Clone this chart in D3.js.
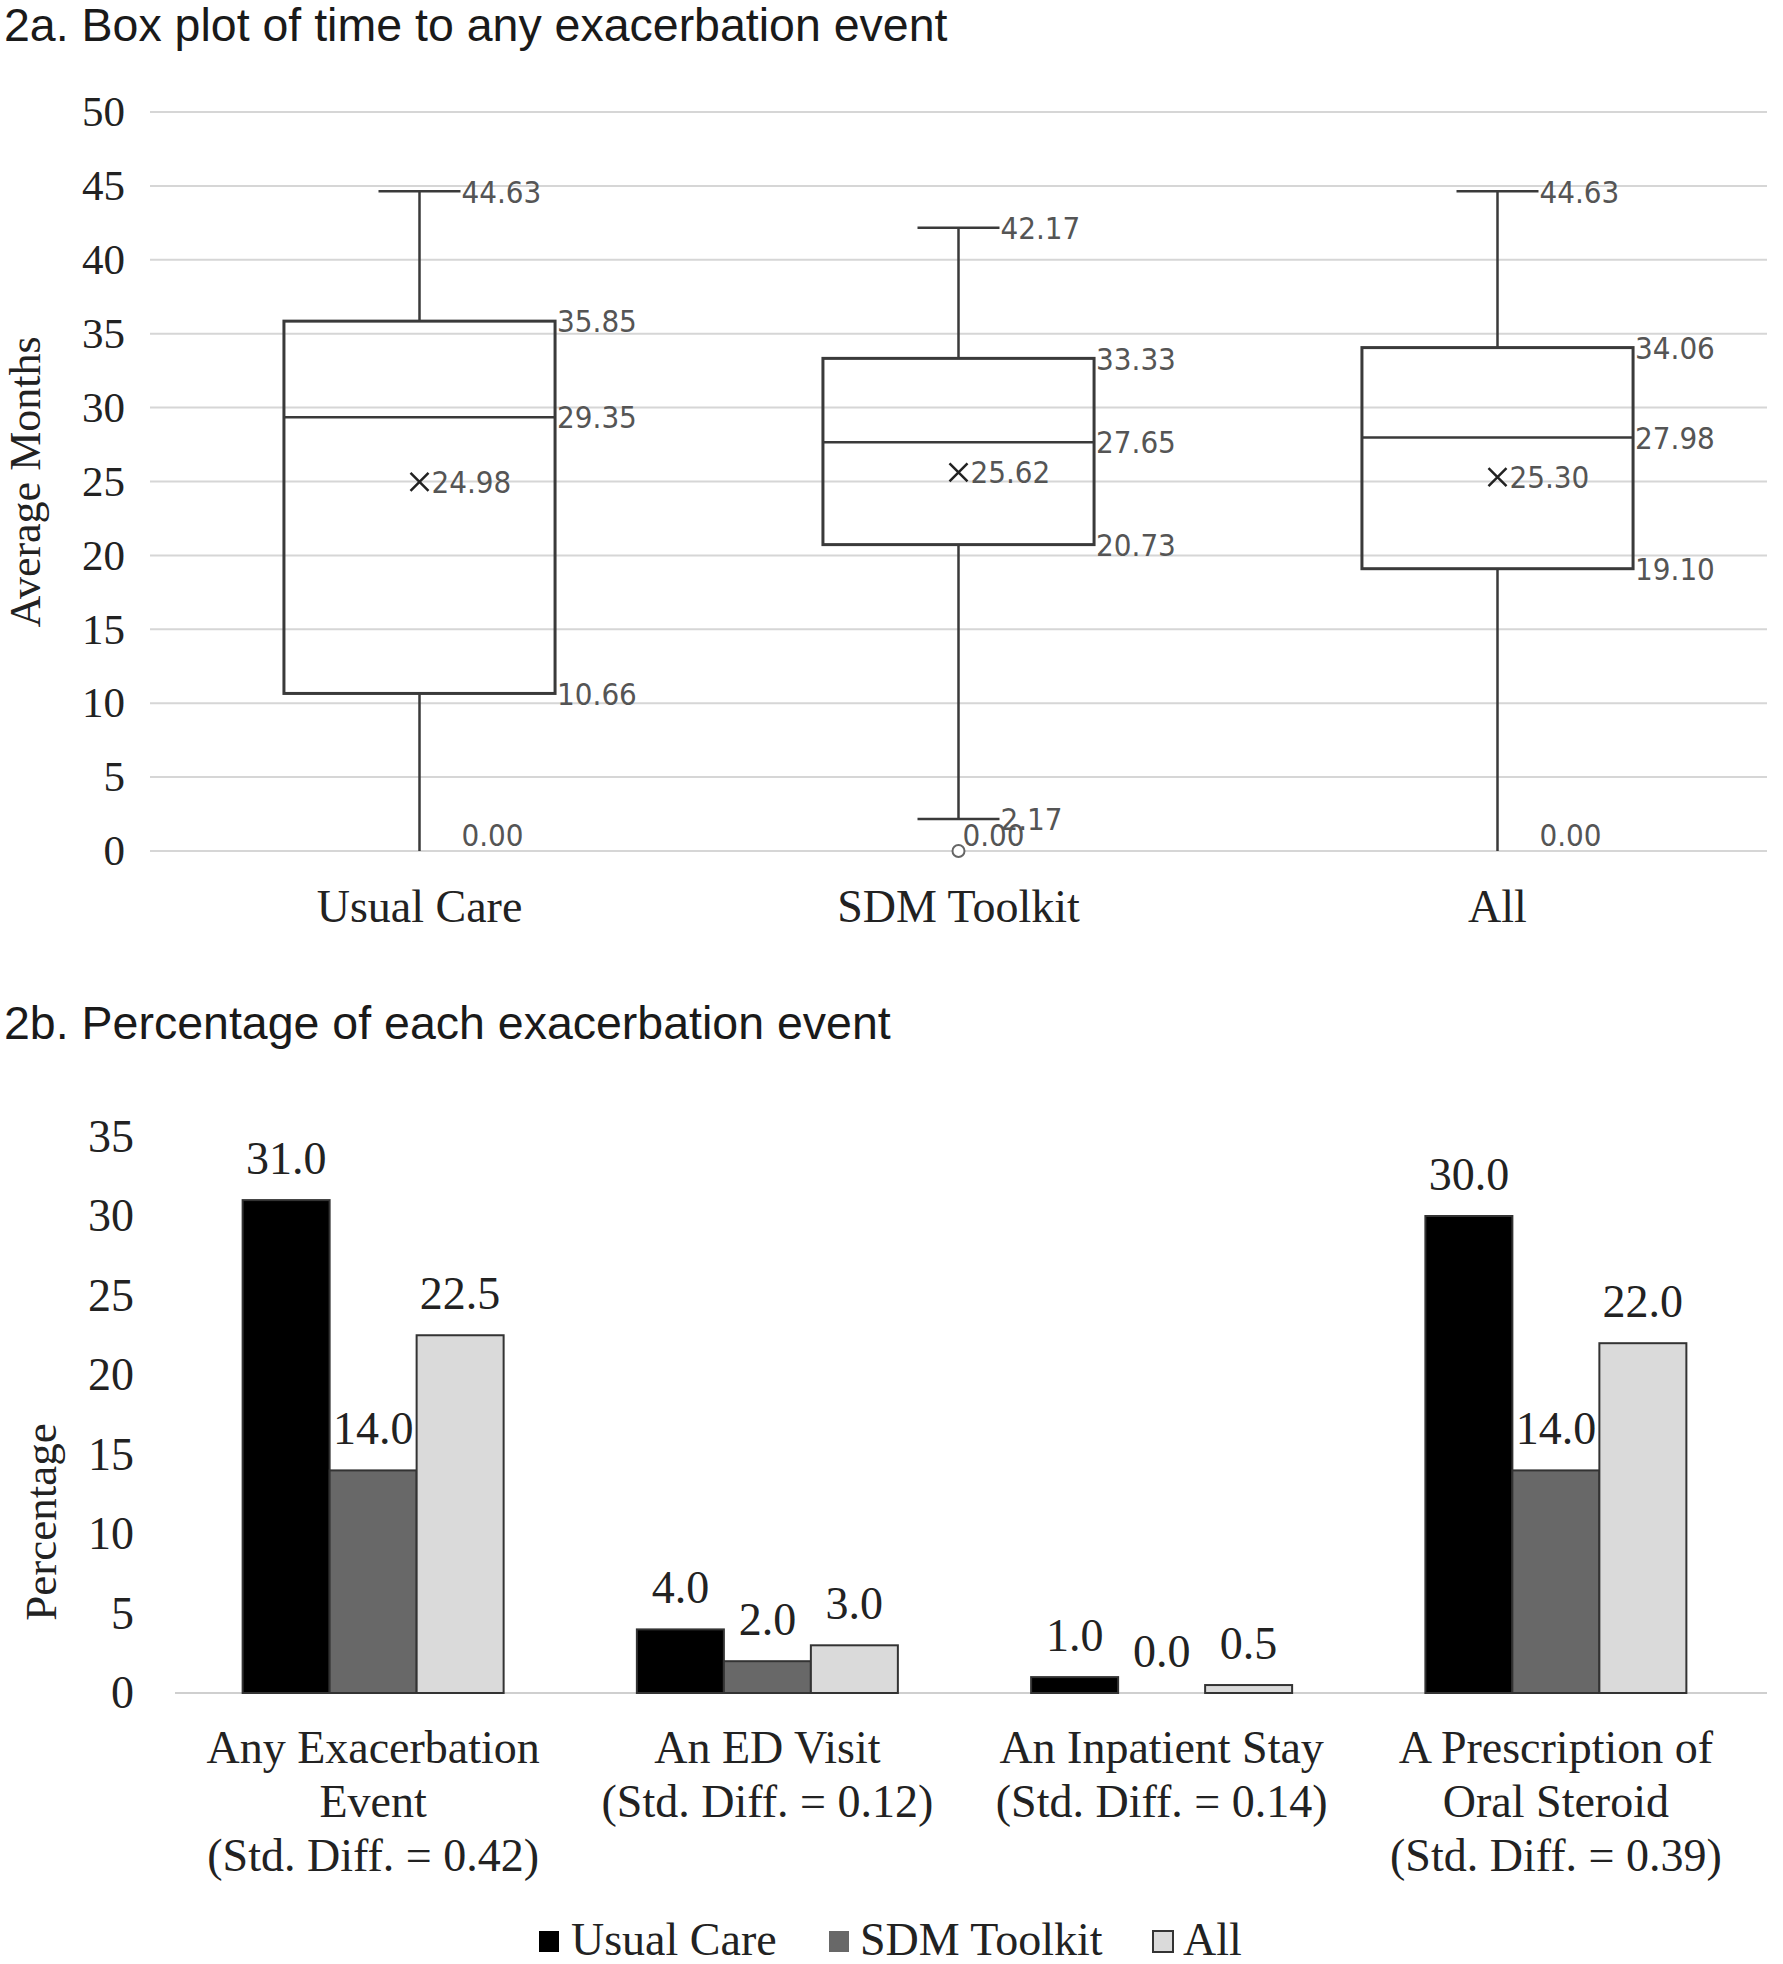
<!DOCTYPE html>
<html><head><meta charset="utf-8">
<script src="https://cdn.jsdelivr.net/npm/d3@7"></script>
<style>body{margin:0;background:#fff}</style>
</head><body>
<svg id="c" width="1783" height="1964" xmlns="http://www.w3.org/2000/svg"></svg>
<script>
// ---------- 2a data ----------
const boxGroups = ["Usual Care", "SDM Toolkit", "All"];
const boxMin = [0.00, 2.17, 0.00];
const boxQ1 = [10.66, 20.73, 19.10];
const boxMedian = [29.35, 27.65, 27.98];
const boxQ3 = [35.85, 33.33, 34.06];
const boxMax = [44.63, 42.17, 44.63];
const boxMean = [24.98, 25.62, 25.30];
const boxOutliers = [[], [0.00], []];
const boxTicks = [0, 5, 10, 15, 20, 25, 30, 35, 40, 45, 50];

// ---------- 2b data ----------
const barCategories = [
  ["Any Exacerbation", "Event", "(Std. Diff. = 0.42)"],
  ["An ED Visit", "(Std. Diff. = 0.12)"],
  ["An Inpatient Stay", "(Std. Diff. = 0.14)"],
  ["A Prescription of", "Oral Steroid", "(Std. Diff. = 0.39)"]
];
const barSeries = ["Usual Care", "SDM Toolkit", "All"];
const usualCareValues = [31.0, 4.0, 1.0, 30.0];
const sdmToolkitValues = [14.0, 2.0, 0.0, 14.0];
const allValues = [22.5, 3.0, 0.5, 22.0];
const barTicks = [0, 5, 10, 15, 20, 25, 30, 35];

const SERIF = "'Liberation Serif','Times New Roman',serif";
const SANS = "'Liberation Sans',Arial,sans-serif";
const LABEL = "'DejaVu Sans Condensed','DejaVu Sans',Verdana,sans-serif";

const svg = d3.select("#c");

// ================= 2a =================
svg.append("text").attr("x", 4).attr("y", 41)
  .attr("font-family", SANS).attr("font-size", 46.5).attr("fill", "#1a1a1a")
  .text("2a. Box plot of time to any exacerbation event");

const yA = d3.scaleLinear().domain([0, 50]).range([851, 112]);
const xA = d3.scaleBand().domain(boxGroups).range([150, 1767])
  .paddingInner(0.497).paddingOuter(0.2485);

const gA = svg.append("g");
gA.selectAll("line.grid").data(boxTicks).join("line")
  .attr("x1", 150).attr("x2", 1767)
  .attr("y1", d => yA(d)).attr("y2", d => yA(d))
  .attr("stroke", "#d6d6d6").attr("stroke-width", 2);

const axA = gA.append("g").attr("transform", "translate(150,0)")
  .call(d3.axisLeft(yA).tickValues(boxTicks).tickSize(0).tickPadding(25));
axA.attr("font-family", SERIF);
axA.select(".domain").remove();
axA.selectAll("text").attr("font-family", SERIF).attr("font-size", 43).attr("fill", "#222");

const axAx = gA.append("g").attr("transform", "translate(0,851)")
  .call(d3.axisBottom(d3.scaleBand().domain(boxGroups).range([150, 1767])).tickSize(0).tickPadding(38));
axAx.attr("font-family", SERIF);
axAx.select(".domain").remove();
axAx.selectAll("text").attr("font-family", SERIF).attr("font-size", 46).attr("fill", "#222");

svg.append("text")
  .attr("transform", "translate(40,482) rotate(-90)")
  .attr("text-anchor", "middle")
  .attr("font-family", SERIF).attr("font-size", 44).attr("fill", "#222")
  .text("Average Months");

const lineCol = "#3a3a3a";
const labCol = "#555";
const capHalf = 41;
function lab(x, v, txt) {
  let yy = yA(v);
  if (yy > yA(0) - 16) yy = yA(0) - 16;
  gA.append("text").attr("x", x).attr("y", yy).attr("dy", "0.36em")
    .attr("font-family", LABEL).attr("font-size", 31).attr("fill", labCol)
    .text(txt);
}
boxGroups.forEach((g, i) => {
  const x0 = xA(g), w = xA.bandwidth(), cx = x0 + w / 2;
  gA.append("line").attr("x1", cx).attr("x2", cx)
    .attr("y1", yA(boxQ3[i])).attr("y2", yA(boxMax[i]))
    .attr("stroke", lineCol).attr("stroke-width", 2.5);
  gA.append("line").attr("x1", cx).attr("x2", cx)
    .attr("y1", yA(boxQ1[i])).attr("y2", yA(boxMin[i]))
    .attr("stroke", lineCol).attr("stroke-width", 2.5);
  gA.append("line").attr("x1", cx - capHalf).attr("x2", cx + capHalf)
    .attr("y1", yA(boxMax[i])).attr("y2", yA(boxMax[i]))
    .attr("stroke", lineCol).attr("stroke-width", 2.5);
  if (boxMin[i] > 0) {
    gA.append("line").attr("x1", cx - capHalf).attr("x2", cx + capHalf)
      .attr("y1", yA(boxMin[i])).attr("y2", yA(boxMin[i]))
      .attr("stroke", lineCol).attr("stroke-width", 2.5);
  }
  gA.append("rect").attr("x", x0).attr("width", w)
    .attr("y", yA(boxQ3[i])).attr("height", yA(boxQ1[i]) - yA(boxQ3[i]))
    .attr("fill", "none").attr("stroke", lineCol).attr("stroke-width", 3);
  gA.append("line").attr("x1", x0).attr("x2", x0 + w)
    .attr("y1", yA(boxMedian[i])).attr("y2", yA(boxMedian[i]))
    .attr("stroke", lineCol).attr("stroke-width", 2.5);
  const my = yA(boxMean[i]), s = 9;
  gA.append("path")
    .attr("d", `M${cx - s},${my - s}L${cx + s},${my + s}M${cx - s},${my + s}L${cx + s},${my - s}`)
    .attr("stroke", "#222").attr("stroke-width", 2.5).attr("fill", "none");
  boxOutliers[i].forEach(o => {
    gA.append("circle").attr("cx", cx).attr("cy", yA(o)).attr("r", 6)
      .attr("fill", "#fff").attr("stroke", "#666").attr("stroke-width", 2);
  });
  lab(cx + capHalf + 1, boxMax[i], boxMax[i].toFixed(2));
  lab(x0 + w + 2, boxQ3[i], boxQ3[i].toFixed(2));
  lab(x0 + w + 2, boxMedian[i], boxMedian[i].toFixed(2));
  lab(x0 + w + 2, boxQ1[i], boxQ1[i].toFixed(2));
  lab(cx + 12, boxMean[i], boxMean[i].toFixed(2));
  lab(cx + capHalf + 1, boxMin[i], boxMin[i].toFixed(2));
  boxOutliers[i].forEach(o => lab(cx + 4, o, o.toFixed(2)));
});

// ================= 2b =================
svg.append("text").attr("x", 4).attr("y", 1039)
  .attr("font-family", SANS).attr("font-size", 46.5).attr("fill", "#1a1a1a")
  .text("2b. Percentage of each exacerbation event");

const catKeys = barCategories.map(d => d.join(" "));
const yB = d3.scaleLinear().domain([0, 35]).range([1693, 1136.5]);
const xB = d3.scaleBand().domain(catKeys).range([176, 1753])
  .paddingInner(0.338).paddingOuter(0.169);
const xB1 = d3.scaleBand().domain(barSeries).range([0, xB.bandwidth()]);
const barColors = d3.scaleOrdinal().domain(barSeries).range(["#000000", "#686868", "#dadada"]);
const seriesValues = [usualCareValues, sdmToolkitValues, allValues];

const gB = svg.append("g");
const axB = gB.append("g").attr("transform", "translate(176,0)")
  .call(d3.axisLeft(yB).tickValues(barTicks).tickSize(0).tickPadding(42));
axB.attr("font-family", SERIF);
axB.select(".domain").remove();
axB.selectAll("text").attr("font-family", SERIF).attr("font-size", 46).attr("fill", "#222");

gB.append("line").attr("x1", 175).attr("x2", 1767)
  .attr("y1", yB(0)).attr("y2", yB(0))
  .attr("stroke", "#cfcfcf").attr("stroke-width", 2);

svg.append("text")
  .attr("transform", "translate(56,1522) rotate(-90)")
  .attr("text-anchor", "middle")
  .attr("font-family", SERIF).attr("font-size", 45).attr("fill", "#222")
  .text("Percentage");

catKeys.forEach((c, ci) => {
  barSeries.forEach((s, si) => {
    const v = seriesValues[si][ci];
    const bx = xB(c) + xB1(s);
    gB.append("rect").attr("x", bx).attr("width", xB1.bandwidth())
      .attr("y", yB(v)).attr("height", yB(0) - yB(v))
      .attr("fill", barColors(s))
      .attr("stroke", v > 0 ? "#333" : "none").attr("stroke-width", 2);
  });
  barSeries.forEach((s, si) => {
    const v = seriesValues[si][ci];
    const bx = xB(c) + xB1(s);
    gB.append("text").attr("x", bx + xB1.bandwidth() / 2).attr("y", yB(v) - 26)
      .attr("text-anchor", "middle")
      .attr("font-family", SERIF).attr("font-size", 46).attr("fill", "#222")
      .text(v.toFixed(1));
  });
  const t = gB.append("text").attr("text-anchor", "middle")
    .attr("font-family", SERIF).attr("font-size", 46).attr("fill", "#222");
  barCategories[ci].forEach((line, li) => {
    t.append("tspan").attr("x", xB(c) + xB.bandwidth() / 2)
      .attr("y", 1763 + li * 54).text(line);
  });
});

// legend
const legX = [539, 829, 1153];
const legText = [571, 860, 1183];
barSeries.forEach((s, i) => {
  svg.append("rect").attr("x", legX[i]).attr("y", 1931).attr("width", 20).attr("height", 21)
    .attr("fill", barColors(s)).attr("stroke", i === 2 ? "#333" : "none").attr("stroke-width", 2);
  svg.append("text").attr("x", legText[i]).attr("y", 1955)
    .attr("font-family", SERIF).attr("font-size", 46).attr("fill", "#222").text(s);
});
</script>
</body></html>
